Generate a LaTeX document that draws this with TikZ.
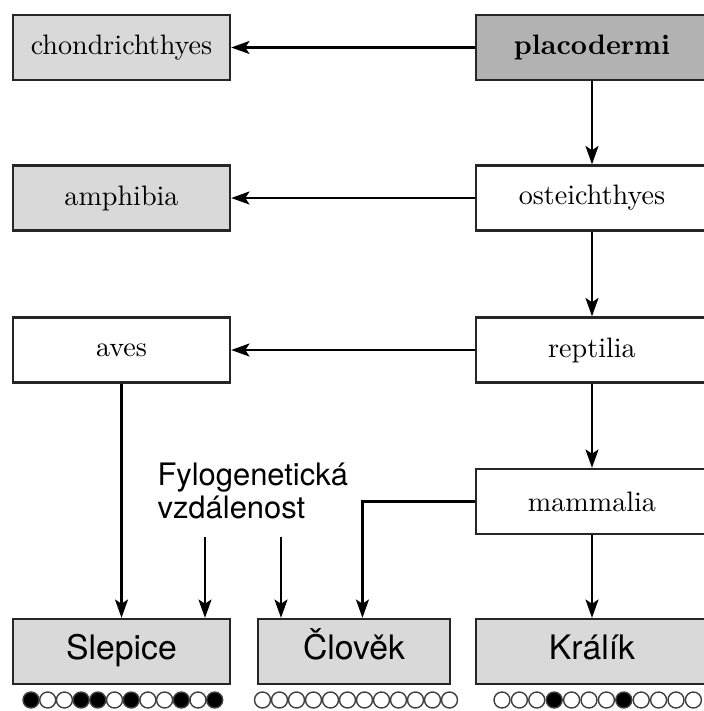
\documentclass[tikz,border=0pt]{standalone}
\usepackage{fontspec}
\newfontfamily\helv{TeX Gyre Heros}
\usetikzlibrary{arrows.meta,positioning}

\begin{document}
\begin{tikzpicture}[
    x=0.0125cm, y=-0.0125cm,
    box/.style={draw=black!85, line width=0.9pt, minimum width=2.71cm, minimum height=0.81cm, align=center, font=\normalsize},
    wide/.style={box, minimum width=2.9cm},
    kind/.style={box, font=\helv\fontsize{12}{14}\selectfont, text height=1.8ex, text depth=0.45ex},
    arr/.style={-{Stealth[length=6.5pt,width=4.6pt,inset=1.5pt]}, line width=0.9pt},
    lbl/.style={font=\helv\fontsize{11}{11.7}\selectfont, align=left, inner sep=0pt},
    dot/.style={draw=black!75, line width=0.5pt}
]
\useasboundingbox (0,0) rectangle (704,711);
\clip (0,0) rectangle (704,711);

\node[box, fill=black!15] (chon) at (121.5,47.5) {chondrichthyes};
\node[wide, fill=black!30] (plac) at (592,47.5) {\textbf{placodermi}};
\node[box, fill=black!15] (amph) at (121.5,198) {amphibia};
\node[wide] (oste) at (592,198) {osteichthyes};
\node[box] (aves) at (121.5,350) {aves};
\node[wide] (rept) at (592,350) {reptilia};
\node[wide] (mamm) at (592,501.5) {mammalia};
\node[kind, fill=black!15] (slep) at (121.5,651.5) {Slepice};
\node[kind, fill=black!15, minimum width=2.4cm] (clov) at (354,651.5) {Člověk};
\node[kind, fill=black!15, minimum width=2.9cm] (kral) at (592,651.5) {Králík};
\node[lbl, anchor=north west] (fylo) at (157,462) {Fylogenetická\\vzdálenost};

\coordinate (d1) at (205,537);
\coordinate (d2) at (281,537);

\draw[arr] (plac) -- (chon);
\draw[arr] (plac) -- (oste);
\draw[arr] (oste) -- (amph);
\draw[arr] (oste) -- (rept);
\draw[arr] (rept) -- (aves);
\draw[arr] (rept) -- (mamm);
\draw[arr] (aves) -- (slep);
\draw[arr] (mamm) -- (kral);
\draw[arr] (mamm.west) -| ([xshift=3pt]clov.north);
\draw[arr] (d1) -- (d1 |- slep.north);
\draw[arr] (d2) -- (d2 |- clov.north);

% distance rows
\foreach \c [count=\i from 0] in {black,white,white,black,black,white,black,white,white,black,white,black}
    \draw[dot, fill=\c] (31+16.7*\i,700) circle[radius=0.1cm];
\foreach \c [count=\i from 0] in {white,white,white,white,white,white,white,white,white,white,white,white}
    \draw[dot, fill=\c] (262.5+17*\i,700) circle[radius=0.1cm];
\foreach \c [count=\i from 0] in {white,white,white,black,white,white,white,black,white,white,white,white}
    \draw[dot, fill=\c] (502+17.4*\i,700) circle[radius=0.1cm];
\end{tikzpicture}
\end{document}
